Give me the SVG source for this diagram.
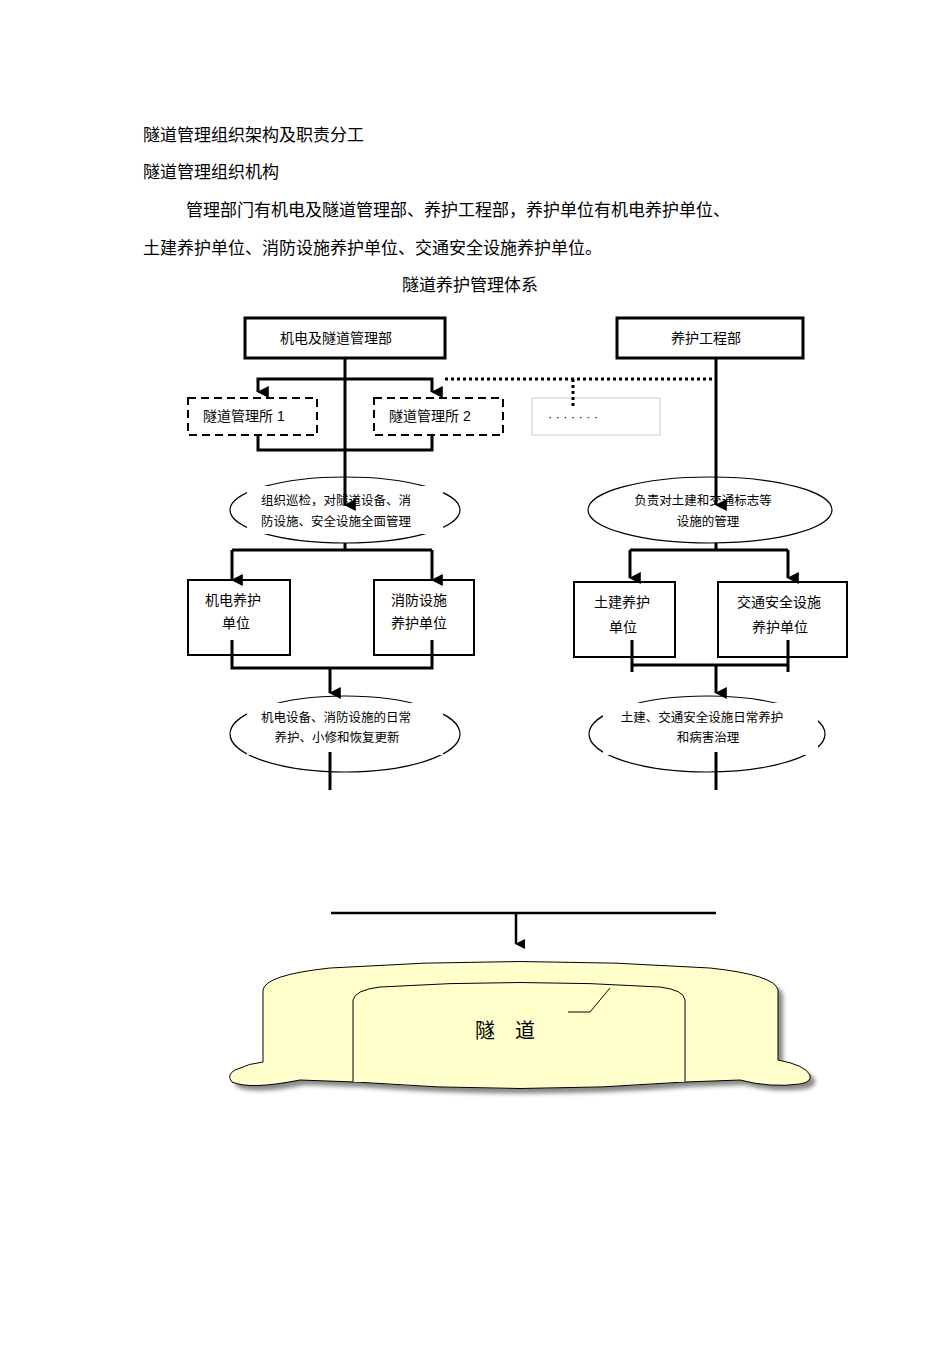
<svg xmlns="http://www.w3.org/2000/svg" width="950" height="1345" viewBox="0 0 950 1345">
<defs>
<style>
text{font-family:"Liberation Sans","Noto Sans CJK SC",sans-serif;fill:#000}
.h{font-size:17px}
.t{font-size:14px}
.s{font-size:12.5px}
.b{fill:#fff;stroke:#000;stroke-width:3}
.bx{fill:#fff;stroke:#000;stroke-width:2}
.dash{fill:#fff;stroke:#000;stroke-width:2;stroke-dasharray:8,5}
.el{fill:#fff;stroke:#000;stroke-width:1.2}
.c{fill:none;stroke:#000;stroke-width:3}
</style>
<marker id="a" viewBox="0 0 10 10" refX="5" refY="9" markerWidth="4" markerHeight="4" orient="auto-start-reverse" markerUnits="strokeWidth"><path d="M0,0 L10,0 L5,10 Z" fill="#000"/></marker>
<marker id="a2" viewBox="0 0 10 10" refX="9" refY="5" markerWidth="5" markerHeight="5" orient="auto" markerUnits="strokeWidth"><path d="M0,0 L10,5 L0,10 Z" fill="#000"/></marker>
<filter id="sh"><feGaussianBlur stdDeviation="2"/></filter>
</defs>
<rect width="950" height="1345" fill="#fff"/>
<text class="h" x="143" y="141">隧道管理组织架构及职责分工</text>
<text class="h" x="143" y="178">隧道管理组织机构</text>
<text class="h" x="186" y="216">管理部门有机电及隧道管理部、养护工程部，养护单位有机电养护单位、</text>
<text class="h" x="143" y="254">土建养护单位、消防设施养护单位、交通安全设施养护单位。</text>
<text class="h" x="470" y="291" text-anchor="middle">隧道养护管理体系</text>

<g id="n1"><rect class="b" x="245" y="318" width="200" height="40"/><text class="t" x="336" y="343" text-anchor="middle">机电及隧道管理部</text></g>
<g id="n2"><rect class="b" x="617" y="318" width="186" height="40"/><text class="t" x="706" y="343" text-anchor="middle">养护工程部</text></g>
<g id="n3"><rect class="dash" x="188" y="398" width="129" height="37"/><text class="t" x="203" y="421">隧道管理所  1</text></g>
<g id="n4"><rect class="dash" x="374" y="398" width="129" height="37"/><text class="t" x="389" y="421">隧道管理所  2</text></g>
<g id="n5"><rect x="532" y="398" width="128" height="37" fill="#fff" stroke="#ccc" stroke-width="1"/><text class="s" x="548" y="421">· · · · · · ·</text></g>

<g id="n6"><ellipse class="el" cx="345" cy="510" rx="115" ry="33"/><rect x="247" y="486" width="196" height="48" fill="#fff"/><text class="s" x="336" y="505" text-anchor="middle">组织巡检，对隧道设备、消</text><text class="s" x="336" y="526" text-anchor="middle">防设施、安全设施全面管理</text></g>
<g id="n7"><ellipse class="el" cx="710" cy="510" rx="122" ry="33"/><text class="s" x="703" y="505" text-anchor="middle">负责对土建和交通标志等</text><text class="s" x="708" y="526" text-anchor="middle">设施的管理</text></g>

<g id="n8"><rect class="bx" x="188" y="580" width="102" height="75"/><text class="t" x="233" y="605" text-anchor="middle">机电养护</text><text class="t" x="236" y="628" text-anchor="middle">单位</text></g>
<g id="n9"><rect class="bx" x="374" y="580" width="100" height="75"/><text class="t" x="419" y="605" text-anchor="middle">消防设施</text><text class="t" x="419" y="628" text-anchor="middle">养护单位</text></g>
<g id="n10"><rect class="bx" x="574" y="582" width="101" height="75"/><text class="t" x="622" y="607" text-anchor="middle">土建养护</text><text class="t" x="623" y="632" text-anchor="middle">单位</text></g>
<g id="n11"><rect class="bx" x="718" y="582" width="129" height="75"/><text class="t" x="779" y="607" text-anchor="middle">交通安全设施</text><text class="t" x="780" y="632" text-anchor="middle">养护单位</text></g>

<g id="n12"><ellipse class="el" cx="345" cy="734" rx="115" ry="38"/><rect x="247" y="703" width="196" height="52" fill="#fff"/><text class="s" x="336" y="722" text-anchor="middle">机电设备、消防设施的日常</text><text class="s" x="337" y="742" text-anchor="middle">养护、小修和恢复更新</text></g>
<g id="n13"><ellipse class="el" cx="707" cy="734" rx="118" ry="38"/><rect x="603" y="703" width="215" height="52" fill="#fff"/><text class="s" x="702" y="722" text-anchor="middle">土建、交通安全设施日常养护</text><text class="s" x="708" y="742" text-anchor="middle">和病害治理</text></g>

<g id="connectors">
<path class="c" d="M345,358 V505" marker-end="url(#a)"/>
<path class="c" d="M345,379 H258 V392" marker-end="url(#a)"/>
<path class="c" d="M345,379 H432 V392" marker-end="url(#a)"/>
<path d="M445,379 H716 M573,379 V406" fill="none" stroke="#000" stroke-width="3" stroke-dasharray="3,3"/>
<path class="c" d="M258,435 V450 H432 V435"/>
<path class="c" d="M716,358 V505" marker-end="url(#a)"/>
<path class="c" d="M345,543 V550"/>
<path class="c" d="M232,550 H432"/>
<path class="c" d="M232,550 V580" marker-end="url(#a)"/>
<path class="c" d="M432,550 V580" marker-end="url(#a)"/>
<path class="c" d="M232,640 V668 H432 V640"/>
<path class="c" d="M330,668 V693" marker-end="url(#a)"/>
<path class="c" d="M330,752 V790"/>
<path class="c" d="M716,543 V550 M630,550 H788"/>
<path class="c" d="M630,550 V578" marker-end="url(#a)"/>
<path class="c" d="M788,550 V578" marker-end="url(#a)"/>
<path class="c" d="M632,640 V672 M788,640 V672 M632,665 H788"/>
<path class="c" d="M716,665 V693" marker-end="url(#a)"/>
<path class="c" d="M716,752 V790"/>
<path d="M331,913 H716" stroke="#000" stroke-width="2.5"/>
<path d="M516,913 V944" stroke="#000" stroke-width="2.5" marker-end="url(#a)"/>
</g>

<g id="tunnel">
<path d="M263,1062 L263,990 Q265,975 330,968 Q520,955 710,968 Q775,975 778,990 L778,1060 Q805,1065 810,1075 Q812,1082 800,1084 Q770,1088 740,1080 L685,1082 Q520,1095 355,1082 L300,1080 Q250,1090 232,1082 Q226,1075 235,1070 Q250,1063 263,1062 Z" fill="#888" filter="url(#sh)" transform="translate(5,5)"/>
<path d="M263,1062 L263,990 Q265,975 330,968 Q520,955 710,968 Q775,975 778,990 L778,1060 Q805,1065 810,1075 Q812,1082 800,1084 Q770,1088 740,1080 L685,1082 Q520,1095 355,1082 L300,1080 Q250,1090 232,1082 Q226,1075 235,1070 Q250,1063 263,1062 Z" fill="#ffffcc" stroke="#000" stroke-width="1"/>
<path d="M353,1082 L353,1000 Q355,990 380,987 Q520,978 660,987 Q684,990 685,1000 L685,1082" fill="#ffffcc" stroke="#000" stroke-width="1"/>
<path d="M568,1012 H590 L610,988" fill="none" stroke="#000" stroke-width="1"/>
<text x="505" y="1038" font-size="20" text-anchor="middle">隧　道</text>
</g>
</svg>
